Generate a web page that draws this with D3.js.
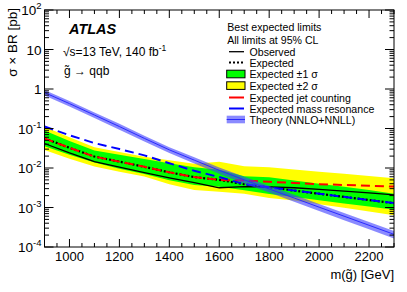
<!DOCTYPE html>
<html><head><meta charset="utf-8">
<script src="https://cdn.jsdelivr.net/npm/d3@7"></script>
<style>
body{margin:0;background:#fff;}
svg{display:block;font-family:"Liberation Sans",Arial,Helvetica,sans-serif;}
</style></head>
<body><svg id="c" width="407" height="292"></svg>
<script>
// ---- data (pb) ----
const masses = [900,1000,1100,1200,1300,1400,1500,1600,1700,1800,1900,2000,2100,2200,2300];
const observed = [0.0417,0.0240,0.0145,0.0105,0.00759,0.00562,0.00427,0.00316,0.00339,0.00331,0.00316,0.00288,0.00260,0.00234,0.00209];
const expected = [0.0562,0.0324,0.0195,0.0145,0.0107,0.00776,0.00589,0.00501,0.00389,0.00324,0.00269,0.00224,0.00186,0.00155,0.00129];
const exp1Up = [0.0895,0.0486,0.0277,0.0217,0.0168,0.0131,0.0105,0.00897,0.00619,0.00579,0.00482,0.00401,0.00333,0.00277,0.00224];
const exp1Dn = [0.0353,0.0215,0.0137,0.00962,0.00700,0.00488,0.00370,0.00333,0.00274,0.00221,0.00184,0.00153,0.00127,0.00106,0.000881];
const exp2Up = [0.111,0.0597,0.0337,0.0255,0.0192,0.0156,0.0129,0.0143,0.0111,0.0104,0.00916,0.00807,0.00711,0.00628,0.00553];
const exp2Dn = [0.0284,0.0171,0.0109,0.00807,0.00612,0.00385,0.00276,0.00249,0.00224,0.00175,0.00150,0.00121,0.000982,0.000793,0.000640];
const jetCounting = [0.0562,0.0324,0.0195,0.0145,0.0107,0.00776,0.00589,0.00501,0.00479,0.00447,0.00417,0.00389,0.00372,0.00355,0.00339];
const massResonance = [0.112,0.0676,0.0427,0.0302,0.0209,0.0132,0.00851,0.00589,0.00389,0.00324,0.00269,0.00224,0.00186,0.00155,0.00129];
const theory = [0.813,0.427,0.219,0.112,0.0562,0.0288,0.0158,0.00871,0.00501,0.00295,0.00174,0.00102,0.000603,0.000355,0.000209];
const theoryUnc = [0.16,0.16,0.16,0.17,0.17,0.17,0.18,0.18,0.19,0.19,0.20,0.20,0.21,0.21,0.22];
const xTickLabels = [1000,1200,1400,1600,1800,2000,2200];
const yTickExponents = [-4,-3,-2,-1,0,1,2];
const legendHeader = ["Best expected limits","All limits at 95% CL"];
const legendLabels = ["Observed","Expected","Expected \u00b11 \u03c3","Expected \u00b12 \u03c3","Expected jet counting","Expected mass resonance","Theory (NNLO+NNLL)"];

// ---- layout ----
const L = 44.5, R = 394, T = 10, B = 247;
const svg = d3.select("#c");
const x = d3.scaleLinear().domain([900,2300]).range([L,R]);
const y = d3.scaleLog().domain([1e-4,1e2]).range([B,T]);

const idx = d3.range(masses.length);
const g = svg.append("g");
const clip = svg.append("clipPath").attr("id","cp").append("rect")
  .attr("x",L).attr("y",T).attr("width",R-L).attr("height",B-T);
const plot = svg.append("g").attr("clip-path","url(#cp)");

const band = (lo,hi)=>d3.area().x(i=>x(masses[i])).y0(i=>y(lo[i])).y1(i=>y(hi[i]));
const line = arr=>d3.line().x(i=>x(masses[i])).y(i=>y(arr[i]));

plot.append("path").attr("d",band(exp2Dn,exp2Up)(idx)).attr("fill","#ffff00");
plot.append("path").attr("d",band(exp1Dn,exp1Up)(idx)).attr("fill","#00ff00");
plot.append("path").attr("d",line(observed)(idx)).attr("fill","none").attr("stroke","#000").attr("stroke-width",1.3);
plot.append("path").attr("d",line(expected)(idx)).attr("fill","none").attr("stroke","#000").attr("stroke-width",2.2).attr("stroke-dasharray","2,2");
plot.append("path").attr("d",line(jetCounting)(idx)).attr("fill","none").attr("stroke","#ff0000").attr("stroke-width",2).attr("stroke-dasharray","9,5");
plot.append("path").attr("d",line(massResonance)(idx)).attr("fill","none").attr("stroke","#0000ff").attr("stroke-width",2).attr("stroke-dasharray","9,5");
const thLo = theory.map((v,i)=>v*(1-theoryUnc[i])), thHi = theory.map((v,i)=>v*(1+theoryUnc[i]));
plot.append("path").attr("d",band(thLo,thHi)(idx)).attr("fill","rgba(60,60,255,0.6)");
plot.append("path").attr("d",line(theory)(idx)).attr("fill","none").attr("stroke","#2a2aff").attr("stroke-width",1);

// ---- frame & ticks ----
svg.append("rect").attr("x",L).attr("y",T).attr("width",R-L).attr("height",B-T)
  .attr("fill","none").attr("stroke","#000").attr("stroke-width",1);
const tk = svg.append("g").attr("stroke","#000").attr("stroke-width",1);
d3.range(900,2301,50).forEach(m=>{
  const len = (m%200===0)?8:4;
  tk.append("line").attr("x1",x(m)).attr("x2",x(m)).attr("y1",B).attr("y2",B-len);
  tk.append("line").attr("x1",x(m)).attr("x2",x(m)).attr("y1",T).attr("y2",T+len);
});
yTickExponents.forEach(e=>{
  const yy = y(Math.pow(10,e));
  tk.append("line").attr("x1",L).attr("x2",L+9).attr("y1",yy).attr("y2",yy);
  tk.append("line").attr("x1",R).attr("x2",R-9).attr("y1",yy).attr("y2",yy);
  if(e<2) for(let k=2;k<=9;k++){
    const ym = y(k*Math.pow(10,e));
    tk.append("line").attr("x1",L).attr("x2",L+4.5).attr("y1",ym).attr("y2",ym);
    tk.append("line").attr("x1",R).attr("x2",R-4.5).attr("y1",ym).attr("y2",ym);
  }
});

// ---- tick labels ----
xTickLabels.forEach(m=>{
  svg.append("text").attr("x",x(m)).attr("y",261).attr("text-anchor","middle")
    .attr("font-size",13).text(m);
});
yTickExponents.forEach(e=>{
  const yy = y(Math.pow(10,e));
  const t = svg.append("text").attr("x",41.5).attr("y",yy+5).attr("text-anchor","end").attr("font-size",13.5);
  if(e===0) t.text("1");
  else if(e===1) t.text("10");
  else { t.append("tspan").text("10"); t.append("tspan").attr("dy",-6).attr("font-size",9.5).text(e<0?"-"+(-e):String(e)); }
});

// ---- axis titles ----
svg.append("text").attr("transform","translate(17,8) rotate(-90)").attr("text-anchor","end")
  .attr("font-size",13.5).text("\u03c3 \u00d7 BR [pb]");
svg.append("text").attr("x",R).attr("y",279).attr("text-anchor","end").attr("font-size",13)
  .text("m(g\u0303) [GeV]");

// ---- labels top-left ----
svg.append("text").attr("x",69).attr("y",34).attr("font-size",14.5).attr("font-weight","bold")
  .attr("font-style","italic").text("ATLAS");
const e1 = svg.append("text").attr("x",63).attr("y",56).attr("font-size",12);
e1.append("tspan").text("\u221as=13 TeV, 140 fb");
e1.append("tspan").attr("dy",-5).attr("font-size",8.5).text("-1");
svg.append("text").attr("x",64).attr("y",75).attr("font-size",12).text("g\u0303 \u2192 qqb");

// ---- legend ----
const lx0 = 226.7, lx1 = 245, ltx = 249.5;
const lg = svg.append("g").attr("font-size",10.6);
legendHeader.forEach((t,i)=>lg.append("text").attr("x",lx0+0.5).attr("y",31+i*12.5).text(t));
const rowY = [51.7,62.6,74,85.6,97.5,108.5,119.5];
legendLabels.forEach((t,i)=>lg.append("text").attr("x",ltx).attr("y",rowY[i]+4).text(t));
lg.append("line").attr("x1",229).attr("x2",244).attr("y1",rowY[0]).attr("y2",rowY[0]).attr("stroke","#000").attr("stroke-width",1.3);
lg.append("line").attr("x1",229).attr("x2",244).attr("y1",rowY[1]).attr("y2",rowY[1]).attr("stroke","#000").attr("stroke-width",2).attr("stroke-dasharray","2,2");
lg.append("rect").attr("x",lx0).attr("y",rowY[2]-3.8).attr("width",lx1-lx0).attr("height",7.6).attr("fill","#00ff00").attr("stroke","#000").attr("stroke-width",1);
lg.append("rect").attr("x",lx0).attr("y",rowY[3]-3.8).attr("width",lx1-lx0).attr("height",7.6).attr("fill","#ffff00").attr("stroke","#000").attr("stroke-width",1);
lg.append("line").attr("x1",229).attr("x2",244).attr("y1",rowY[4]).attr("y2",rowY[4]).attr("stroke","#ff0000").attr("stroke-width",2);
lg.append("line").attr("x1",229).attr("x2",244).attr("y1",rowY[5]).attr("y2",rowY[5]).attr("stroke","#0000ff").attr("stroke-width",2);
lg.append("rect").attr("x",lx0).attr("y",rowY[6]-3.8).attr("width",lx1-lx0).attr("height",7.6).attr("fill","rgba(60,60,255,0.6)");
lg.append("line").attr("x1",lx0).attr("x2",lx1).attr("y1",rowY[6]).attr("y2",rowY[6]).attr("stroke","#2a2aff").attr("stroke-width",1);
</script></body></html>
